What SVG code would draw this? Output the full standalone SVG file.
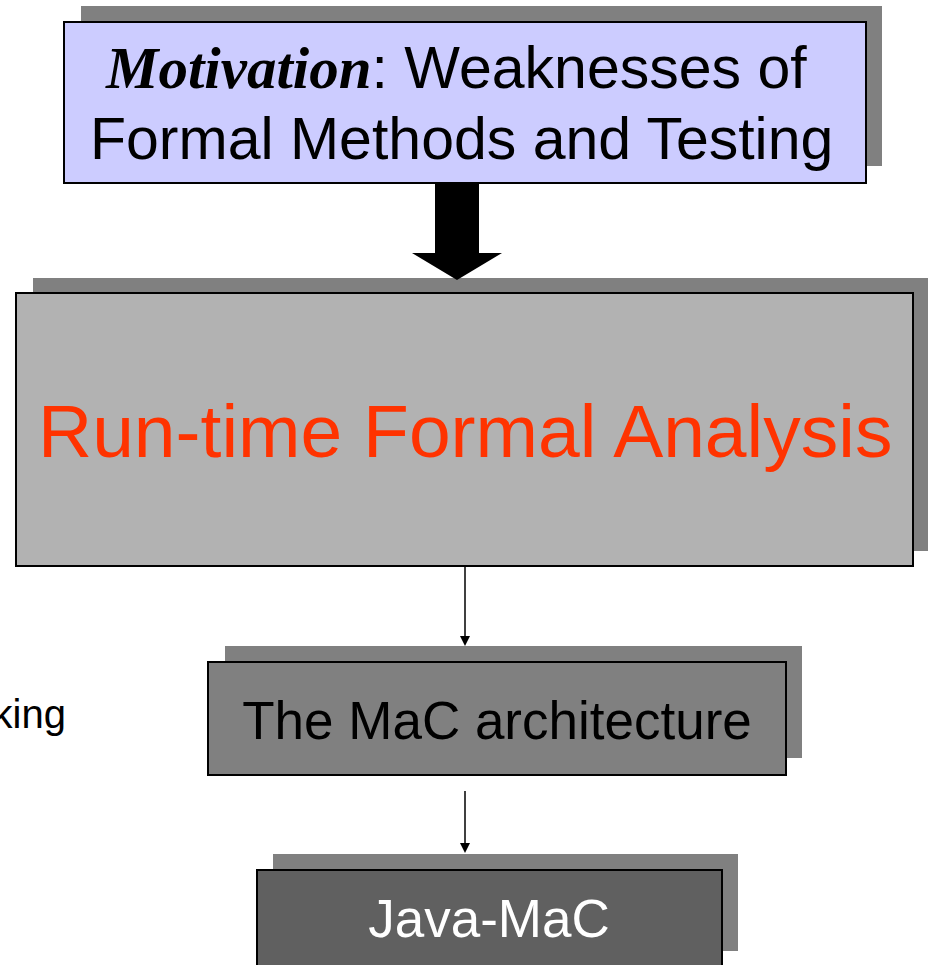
<svg xmlns="http://www.w3.org/2000/svg" width="928" height="965" viewBox="0 0 928 965">
  <style>
    .shadow { fill: #808080; stroke: none; }
    .box { stroke: #000000; stroke-width: 2; }
    .sans { font-family: "Liberation Sans", Arial, sans-serif; }
    .serif-bi { font-family: "Liberation Serif", "Times New Roman", serif; font-weight: bold; font-style: italic; }
  </style>
  <rect x="0" y="0" width="928" height="965" fill="#ffffff"/>

  <g id="side-text">
    <text class="sans" x="66" y="728" font-size="40" text-anchor="end" fill="#000000">king</text>
  </g>

  <g id="node-motivation">
    <rect class="shadow" x="81" y="6" width="801" height="160"/>
    <rect class="box" x="64" y="22" width="802" height="161" fill="#CCCCFF"/>
    <text x="106" y="88" font-size="59" fill="#000000"><tspan class="serif-bi">Motivation</tspan><tspan class="sans">: Weaknesses of</tspan></text>
    <text class="sans" x="90" y="159" font-size="59" fill="#000000">Formal Methods and Testing</text>
  </g>

  <g id="node-runtime">
    <rect class="shadow" x="33" y="278" width="900" height="273"/>
    <rect class="box" x="16" y="293" width="897" height="273" fill="#B2B2B2"/>
    <text class="sans" x="38" y="457" font-size="75" fill="#FF3300">Run-time Formal Analysis</text>
  </g>

  <g id="node-mac">
    <rect class="shadow" x="225" y="646" width="577" height="112"/>
    <rect class="box" x="208" y="662" width="578" height="113" fill="#808080"/>
    <text class="sans" x="497" y="739" font-size="53" text-anchor="middle" fill="#000000">The MaC architecture</text>
  </g>

  <g id="node-javamac">
    <rect class="shadow" x="273" y="854" width="465" height="97"/>
    <rect class="box" x="257" y="870" width="465" height="110" fill="#606060"/>
    <text class="sans" x="489" y="937" font-size="53" text-anchor="middle" fill="#FFFFFF">Java-MaC</text>
  </g>

  <g id="connectors">
    <polygon points="435,184 479,184 479,253 502,253 457,280 412,253 435,253" fill="#000000"/>
    <line x1="465" y1="567" x2="465" y2="637" stroke="#000000" stroke-width="1.5"/>
    <polygon points="460,636 470,636 465,646" fill="#000000"/>
    <line x1="465" y1="791" x2="465" y2="844" stroke="#000000" stroke-width="1.5"/>
    <polygon points="460,843 470,843 465,853" fill="#000000"/>
  </g>
</svg>
